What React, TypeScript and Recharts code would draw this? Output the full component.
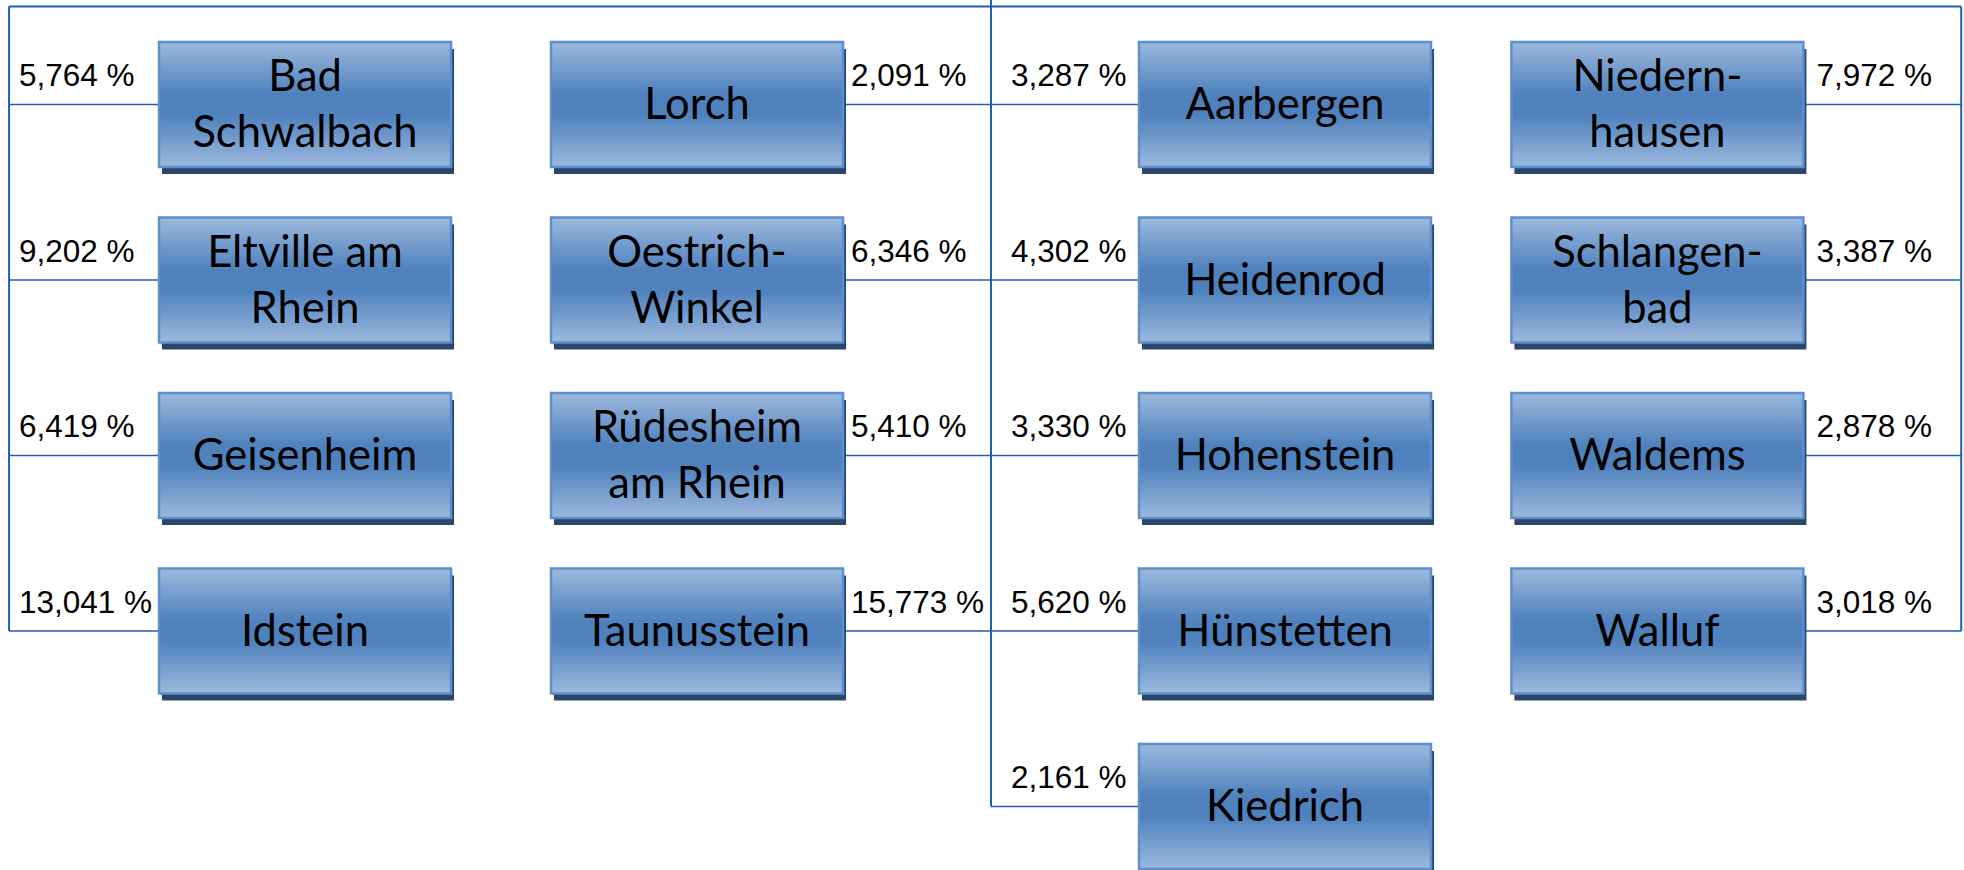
import { ScatterChart, Scatter, XAxis, YAxis, ReferenceLine } from "recharts";

// Gemeinden (line breaks as in the boxes)
const towns = [
    "Bad\nSchwalbach", "Eltville am\nRhein", "Geisenheim", "Idstein",
    "Lorch", "Oestrich-\nWinkel", "Rüdesheim\nam Rhein", "Taunusstein",
    "Aarbergen", "Heidenrod", "Hohenstein", "Hünstetten", "Kiedrich",
    "Niedern-\nhausen", "Schlangen-\nbad", "Waldems", "Walluf",
];
// Anteil in %
const shares = [
    5.764, 9.202, 6.419, 13.041,
    2.091, 6.346, 5.41, 15.773,
    3.287, 4.302, 3.33, 5.62, 2.161,
    7.972, 3.387, 2.878, 3.018,
];
const columns = [0, 0, 0, 0, 1, 1, 1, 1, 2, 2, 2, 2, 2, 3, 3, 3, 3];
const rows = [0, 1, 2, 3, 0, 1, 2, 3, 0, 1, 2, 3, 4, 0, 1, 2, 3];

// layout of the org chart in axis units
const columnSlots = [0, 1, 2.5, 3.45];
const trunkSlots = [-0.755, 1.75, 1.75, 4.225];
const TOP_ROW = -0.558;

const W = 1964;
const H = 870;
const X_DOMAIN: [number, number] = [-0.7781, 4.2321];
const Y_DOMAIN: [number, number] = [-0.5954, 4.3619];

const BOX_W = 292;
const BOX_H = 125;
const LINE = "#1f5fb4";
// label offset from the box edge, per column
const labelOffsets = [-140, 8, -128, 13];

const data = towns.map((name, i) => ({
    name,
    share: shares[i],
    col: columns[i],
    x: columnSlots[columns[i]],
    y: rows[i],
}));

const fmt = (v: number) => v.toFixed(3).replace(".", ",") + " %";

const TownBox = (props: any) => {
    const { cx, cy, payload, index } = props;
    if (cx == null || cy == null) return null;
    const left = cx - BOX_W / 2;
    const top = cy - BOX_H / 2;
    const lines: string[] = payload.name.split("\n");
    const labelLeft = payload.col === 0 || payload.col === 2;
    const gid = `boxGrad${index}`;
    return (
        <g>
            <defs>
                <linearGradient id={gid} x1="0" y1="0" x2="0" y2="1">
                    <stop offset="0%" stopColor="#9cb9dd" />
                    <stop offset="42%" stopColor="#4f81bd" />
                    <stop offset="58%" stopColor="#4f81bd" />
                    <stop offset="100%" stopColor="#9cb9dd" />
                </linearGradient>
            </defs>
            <rect x={left + 3} y={top + 7} width={BOX_W} height={BOX_H} fill="#2c4669" />
            <rect
                x={left}
                y={top}
                width={BOX_W}
                height={BOX_H}
                fill={`url(#${gid})`}
                stroke="#5d8fcf"
                strokeWidth={2.5}
            />
            {lines.map((ln, k) => (
                <text
                    key={k}
                    x={cx}
                    y={lines.length === 1 ? cy + 15 : cy - 13 + k * 56}
                    textAnchor="middle"
                    fontFamily="Lato, 'Open Sans', sans-serif"
                    fontSize={43.5}
                    fill="#000"
                >
                    {ln}
                </text>
            ))}
            <text
                x={(labelLeft ? left : left + BOX_W) + labelOffsets[payload.col]}
                y={cy - 18}
                textAnchor="start"
                fontFamily="'Liberation Sans', Arial, sans-serif"
                fontSize={31.5}
                fill="#000"
            >
                {fmt(payload.share)}
            </text>
        </g>
    );
};

export default function App() {
    const lastRow = (c: number) => Math.max(...rows.filter((_, i) => columns[i] === c));
    return (
        <div style={{ width: W, height: H, background: "#fff" }}>
            <style>{"body{margin:0}"}</style>
            <ScatterChart width={W} height={H} margin={{ top: 0, right: 0, bottom: 0, left: 0 }}>
                <XAxis type="number" dataKey="x" domain={X_DOMAIN} allowDataOverflow hide />
                <YAxis type="number" dataKey="y" domain={Y_DOMAIN} allowDataOverflow reversed hide />
                {/* top bar */}
                <ReferenceLine
                    segment={[{ x: trunkSlots[0], y: TOP_ROW }, { x: trunkSlots[3], y: TOP_ROW }]}
                    stroke={LINE}
                    strokeWidth={2}
                />
                {/* trunks */}
                <ReferenceLine
                    segment={[{ x: trunkSlots[0], y: TOP_ROW }, { x: trunkSlots[0], y: lastRow(0) }]}
                    stroke={LINE}
                    strokeWidth={2}
                />
                <ReferenceLine
                    segment={[{ x: trunkSlots[1], y: Y_DOMAIN[0] }, { x: trunkSlots[1], y: lastRow(2) }]}
                    stroke={LINE}
                    strokeWidth={2}
                />
                <ReferenceLine
                    segment={[{ x: trunkSlots[3], y: TOP_ROW }, { x: trunkSlots[3], y: lastRow(3) }]}
                    stroke={LINE}
                    strokeWidth={2}
                />
                {/* connectors */}
                {data.map((d, i) => (
                    <ReferenceLine
                        key={i}
                        segment={[{ x: trunkSlots[d.col], y: d.y }, { x: d.x, y: d.y }]}
                        stroke={LINE}
                        strokeWidth={1.5}
                    />
                ))}
                <Scatter data={data} shape={TownBox} isAnimationActive={false} />
            </ScatterChart>
        </div>
    );
}
